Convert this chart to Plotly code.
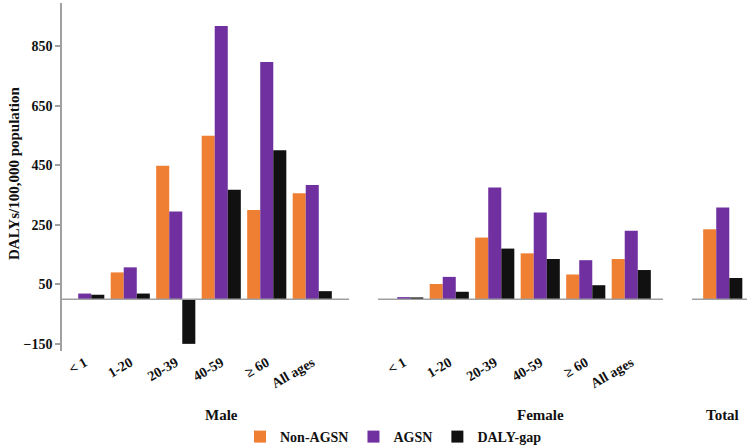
import plotly.graph_objects as go

categories = ["< 1", "1-20", "20-39", "40-59", "≥ 60", "All ages"]
male_non_agsn = [0, 90, 448, 549, 300, 356]
male_agsn = [19, 107, 295, 918, 797, 384]
male_gap = [15, 19, -150, 368, 500, 27]
female_non_agsn = [0, 51, 207, 154, 83, 135]
female_agsn = [7, 75, 375, 291, 131, 230]
female_gap = [6, 25, 170, 135, 47, 98]
total_cat = ["Total"]
total_non_agsn = [235]
total_agsn = [308]
total_gap = [71]

series_names = ["Non-AGSN", "AGSN", "DALY-gap"]
colors = ["#EF7F32", "#7030A0", "#111111"]

serif = "Liberation Serif"
fig = go.Figure()

panels = [
    ("x", categories, [male_non_agsn, male_agsn, male_gap], True),
    ("x2", categories, [female_non_agsn, female_agsn, female_gap], False),
    ("x3", total_cat, [total_non_agsn, total_agsn, total_gap], False),
]
for xa, cats, vals, show in panels:
    for name, col, v in zip(series_names, colors, vals):
        fig.add_trace(go.Bar(x=cats, y=v, name=name, marker=dict(color=col, line=dict(width=0)),
                             xaxis=xa, yaxis="y", legendgroup=name, showlegend=show))

W, L = 747, 62
pw = W - L
def fx(px):
    return (px - L) / pw

PB = 351  # plot bottom pixel
PH = 348  # plot height
def fy(py):
    return (PB - py) / PH

tickfont = dict(family=serif, size=14, color="#111", weight="bold")
xcommon = dict(type="category", anchor="y", showline=False, ticks="", tickangle=-30,
               tickfont=tickfont, showgrid=False, zeroline=False, automargin=False)
fig.update_layout(
    width=747, height=447,
    margin=dict(l=L, r=0, t=3, b=96, autoexpand=False),
    plot_bgcolor="white", paper_bgcolor="white",
    barmode="group", bargap=0.14, bargroupgap=0,
    xaxis=dict(domain=[0, fx(335)], **xcommon),
    xaxis2=dict(domain=[fx(381), fx(654)], **xcommon),
    xaxis3=dict(domain=[fx(700), fx(745.5)], type="category", anchor="y", showline=False,
                ticks="", showticklabels=False, showgrid=False, zeroline=False, automargin=False),
    yaxis=dict(range=[-174, 995], tickvals=[-150, 50, 250, 450, 650, 850], showgrid=False,
               zeroline=False, showline=True, linecolor="#A0A0A0", linewidth=1.5,
               ticks="outside", ticklen=5, tickcolor="#A0A0A0", tickwidth=1.5, automargin=False,
               tickfont=dict(family=serif, size=14, color="#111", weight="bold")),
    legend=dict(orientation="h", x=fx(240), xanchor="left", y=fy(437), yanchor="middle",
                font=dict(family=serif, size=14, color="#111", weight="bold"),
                itemwidth=30, tracegroupgap=0),
    showlegend=True,
)

for a, b in [(62, 349), (378, 663), (692, 747)]:
    fig.add_shape(type="line", xref="paper", yref="y", x0=fx(a), x1=fx(b), y0=0, y1=0,
                  line=dict(color="#A0A0A0", width=1.5))

for text, px in [("Male", 221), ("Female", 540), ("Total", 722)]:
    fig.add_annotation(text=text, xref="paper", yref="paper", x=fx(px), y=fy(415),
                       showarrow=False, xanchor="center", yanchor="middle",
                       font=dict(family=serif, size=15, color="#111", weight="bold"))

fig.add_annotation(text="DALYs/100,000 population", xref="paper", yref="paper",
                   x=fx(14), y=fy(174), textangle=-90, showarrow=False,
                   xanchor="center", yanchor="middle",
                   font=dict(family=serif, size=15, color="#111", weight="bold"))

fig.write_html("out.html", config={"displayModeBar": False},
               post_script="document.body.style.margin='0';document.body.style.overflow='hidden';")
